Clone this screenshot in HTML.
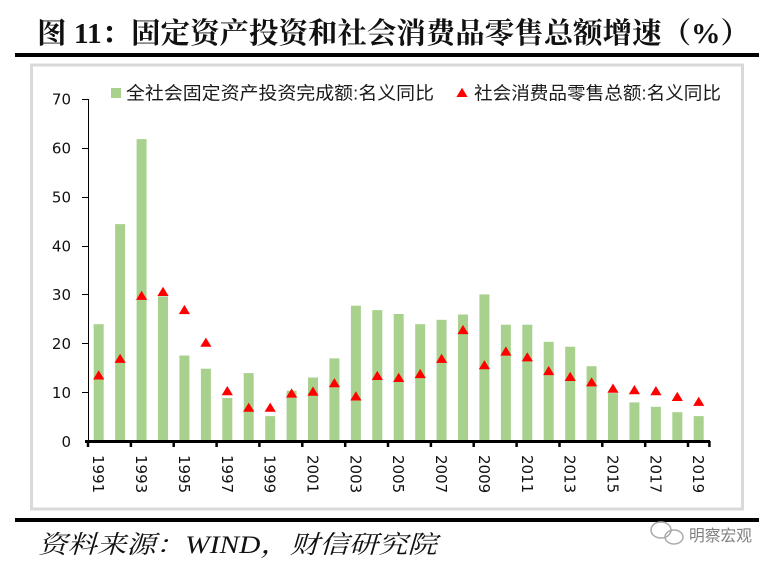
<!DOCTYPE html>
<html><head><meta charset="utf-8"><style>
html,body{margin:0;padding:0;background:#fff;}
svg{display:block;}
</style></head><body>
<svg width="776" height="567" viewBox="0 0 776 567" xmlns="http://www.w3.org/2000/svg">
<defs><path id="t" d="M0,-5.2 L5.6,4 L-5.6,4Z" fill="#ff0000"/></defs>
<rect width="776" height="567" fill="#fff"/>
<text x="37" y="43" font-family="'Liberation Serif','Noto Serif CJK SC',serif" font-weight="bold" font-size="29" fill="#111" textLength="713" lengthAdjust="spacingAndGlyphs">图 11：固定资产投资和社会消费品零售总额增速（%）</text>
<rect x="15" y="53" width="744" height="4" fill="#000"/>
<rect x="31.5" y="65" width="711" height="444" fill="#fff" stroke="#d9d9d9" stroke-width="3"/>
<!-- legend -->
<rect x="111" y="88" width="10" height="10" fill="#a9d18e"/>
<text x="126" y="99.5" font-family="'Liberation Sans','Noto Sans CJK SC',sans-serif" font-size="18" fill="#1a1a1a" textLength="308" lengthAdjust="spacingAndGlyphs">全社会固定资产投资完成额:名义同比</text>
<use href="#t" x="462" y="93"/>
<text x="474" y="99.5" font-family="'Liberation Sans','Noto Sans CJK SC',sans-serif" font-size="18" fill="#1a1a1a" textLength="247" lengthAdjust="spacingAndGlyphs">社会消费品零售总额:名义同比</text>
<!-- bars -->
<g fill="#a9d18e">
<rect x="93.7" y="324.2" width="10" height="116.8"/>
<rect x="115.1" y="224.1" width="10" height="216.9"/>
<rect x="136.6" y="139.1" width="10" height="301.9"/>
<rect x="158.0" y="296.4" width="10" height="144.6"/>
<rect x="179.4" y="355.5" width="10" height="85.5"/>
<rect x="200.9" y="368.7" width="10" height="72.3"/>
<rect x="222.3" y="398.0" width="10" height="43.0"/>
<rect x="243.7" y="373.1" width="10" height="67.9"/>
<rect x="265.2" y="416.1" width="10" height="24.9"/>
<rect x="286.6" y="390.7" width="10" height="50.3"/>
<rect x="308.0" y="377.5" width="10" height="63.5"/>
<rect x="329.4" y="358.4" width="10" height="82.6"/>
<rect x="350.9" y="305.7" width="10" height="135.3"/>
<rect x="372.3" y="310.1" width="10" height="130.9"/>
<rect x="393.7" y="314.0" width="10" height="127.0"/>
<rect x="415.2" y="324.2" width="10" height="116.8"/>
<rect x="436.6" y="319.8" width="10" height="121.2"/>
<rect x="458.0" y="314.5" width="10" height="126.5"/>
<rect x="479.4" y="294.4" width="10" height="146.6"/>
<rect x="500.9" y="324.7" width="10" height="116.3"/>
<rect x="522.3" y="324.7" width="10" height="116.3"/>
<rect x="543.7" y="341.8" width="10" height="99.2"/>
<rect x="565.2" y="346.7" width="10" height="94.3"/>
<rect x="586.6" y="366.2" width="10" height="74.8"/>
<rect x="608.0" y="393.1" width="10" height="47.9"/>
<rect x="629.4" y="402.4" width="10" height="38.6"/>
<rect x="650.9" y="406.8" width="10" height="34.2"/>
<rect x="672.3" y="412.2" width="10" height="28.8"/>
<rect x="693.7" y="416.1" width="10" height="24.9"/>
</g>
<!-- triangles -->
<use href="#t" x="98.7" y="375.5"/>
<use href="#t" x="120.1" y="358.9"/>
<use href="#t" x="141.6" y="295.9"/>
<use href="#t" x="163.0" y="292.0"/>
<use href="#t" x="184.4" y="310.1"/>
<use href="#t" x="205.9" y="342.8"/>
<use href="#t" x="227.3" y="391.2"/>
<use href="#t" x="248.7" y="407.8"/>
<use href="#t" x="270.2" y="407.8"/>
<use href="#t" x="291.6" y="393.6"/>
<use href="#t" x="313.0" y="391.7"/>
<use href="#t" x="334.4" y="383.3"/>
<use href="#t" x="355.9" y="396.5"/>
<use href="#t" x="377.3" y="376.0"/>
<use href="#t" x="398.7" y="378.0"/>
<use href="#t" x="420.2" y="374.1"/>
<use href="#t" x="441.6" y="358.9"/>
<use href="#t" x="463.0" y="330.1"/>
<use href="#t" x="484.4" y="365.3"/>
<use href="#t" x="505.9" y="351.6"/>
<use href="#t" x="527.3" y="357.4"/>
<use href="#t" x="548.7" y="371.1"/>
<use href="#t" x="570.2" y="377.0"/>
<use href="#t" x="591.6" y="382.4"/>
<use href="#t" x="613.0" y="388.7"/>
<use href="#t" x="634.4" y="390.2"/>
<use href="#t" x="655.9" y="391.2"/>
<use href="#t" x="677.3" y="397.0"/>
<use href="#t" x="698.7" y="401.9"/>
<!-- y axis -->
<g stroke="#000" stroke-width="1">
<line x1="88.5" y1="99" x2="88.5" y2="441"/>
<line x1="82" y1="99.5" x2="88.5" y2="99.5"/>
<line x1="82" y1="148.5" x2="88.5" y2="148.5"/>
<line x1="82" y1="197.5" x2="88.5" y2="197.5"/>
<line x1="82" y1="246.5" x2="88.5" y2="246.5"/>
<line x1="82" y1="294.5" x2="88.5" y2="294.5"/>
<line x1="82" y1="343.5" x2="88.5" y2="343.5"/>
<line x1="82" y1="392.5" x2="88.5" y2="392.5"/>
</g>
<g font-family="'DejaVu Sans',sans-serif" font-size="15" fill="#111" text-anchor="end">
<text x="71" y="104.5">70</text>
<text x="71" y="153.5">60</text>
<text x="71" y="202.5">50</text>
<text x="71" y="251.5">40</text>
<text x="71" y="300">30</text>
<text x="71" y="349">20</text>
<text x="71" y="398">10</text>
<text x="71" y="447">0</text>
</g>
<!-- x axis -->
<rect x="85" y="440" width="625" height="3" fill="#000"/>
<g stroke="#000" stroke-width="2.5">
<line x1="88" y1="441" x2="88" y2="447"/>
<line x1="130.9" y1="441" x2="130.9" y2="447"/>
<line x1="173.7" y1="441" x2="173.7" y2="447"/>
<line x1="216.6" y1="441" x2="216.6" y2="447"/>
<line x1="259.4" y1="441" x2="259.4" y2="447"/>
<line x1="302.3" y1="441" x2="302.3" y2="447"/>
<line x1="345.2" y1="441" x2="345.2" y2="447"/>
<line x1="388.0" y1="441" x2="388.0" y2="447"/>
<line x1="430.9" y1="441" x2="430.9" y2="447"/>
<line x1="473.7" y1="441" x2="473.7" y2="447"/>
<line x1="516.6" y1="441" x2="516.6" y2="447"/>
<line x1="559.5" y1="441" x2="559.5" y2="447"/>
<line x1="602.3" y1="441" x2="602.3" y2="447"/>
<line x1="645.2" y1="441" x2="645.2" y2="447"/>
<line x1="688.0" y1="441" x2="688.0" y2="447"/>
<line x1="709.4" y1="441" x2="709.4" y2="447"/>
</g>
<g font-family="'DejaVu Sans',sans-serif" font-size="15" fill="#111">
<text transform="translate(93.2,455) rotate(90)">1991</text>
<text transform="translate(136.1,455) rotate(90)">1993</text>
<text transform="translate(178.9,455) rotate(90)">1995</text>
<text transform="translate(221.8,455) rotate(90)">1997</text>
<text transform="translate(264.7,455) rotate(90)">1999</text>
<text transform="translate(307.5,455) rotate(90)">2001</text>
<text transform="translate(350.4,455) rotate(90)">2003</text>
<text transform="translate(393.2,455) rotate(90)">2005</text>
<text transform="translate(436.1,455) rotate(90)">2007</text>
<text transform="translate(478.9,455) rotate(90)">2009</text>
<text transform="translate(521.8,455) rotate(90)">2011</text>
<text transform="translate(564.7,455) rotate(90)">2013</text>
<text transform="translate(607.5,455) rotate(90)">2015</text>
<text transform="translate(650.4,455) rotate(90)">2017</text>
<text transform="translate(693.2,455) rotate(90)">2019</text>
</g>
<!-- bottom -->
<rect x="15" y="518" width="744" height="4" fill="#000"/>
<text x="38" y="553" font-family="'Liberation Serif','Noto Serif CJK SC',serif" font-style="italic" font-size="25" fill="#111" textLength="399" lengthAdjust="spacingAndGlyphs">资料来源：WIND，财信研究院</text>
<!-- watermark -->
<g fill="none" stroke="#aaa" stroke-width="1.5">
<ellipse cx="661" cy="530" rx="10" ry="8"/>
<ellipse cx="674" cy="537" rx="9" ry="7"/>
</g>
<text x="689" y="541" font-family="'Liberation Sans','Noto Sans CJK SC',sans-serif" font-size="16" fill="#808080" textLength="63" lengthAdjust="spacingAndGlyphs">明察宏观</text>
</svg>
</body></html>
